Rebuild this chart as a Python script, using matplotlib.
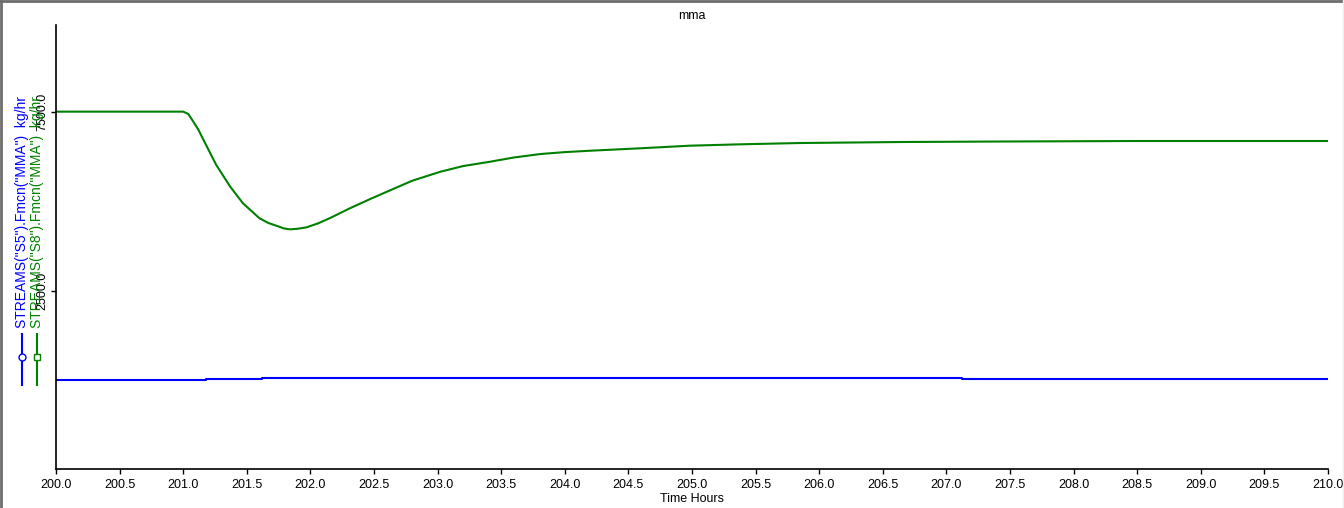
import matplotlib
matplotlib.use("Agg")
import matplotlib.pyplot as plt
from matplotlib.lines import Line2D

plt.rcParams['font.family'] = ['Liberation Sans', 'DejaVu Sans']

# S8 (green)
s8_t = [200.0, 201.0, 201.04, 201.08, 201.12, 201.16, 201.26, 201.37, 201.47,
        201.60, 201.67, 201.74, 201.79, 201.84, 201.90, 201.97, 202.06, 202.15,
        202.31, 202.47, 202.63, 202.80, 203.02, 203.20, 203.41, 203.60, 203.81,
        204.0, 204.20, 204.59, 204.98, 205.38, 205.85, 206.64, 207.42, 208.5, 210.0]
s8_v = [7510, 7510, 7445, 7229, 7000, 6718, 6020, 5413, 4950,
        4531, 4400, 4315, 4250, 4223, 4240, 4279, 4390, 4531,
        4810, 5070, 5318, 5580, 5830, 5990, 6110, 6230, 6327,
        6380, 6419, 6486, 6559, 6598, 6634, 6662, 6676, 6690, 6690]

# S5 (blue), nearly flat with small steps
s5_t = [200.0, 201.18, 201.62, 207.12, 210.0]
s5_v = [20, 50, 80, 45, 45]

xticks = [200 + 0.5 * i for i in range(21)]
yticks = [2500, 7500]

fig = plt.figure(figsize=(13.44, 5.08), dpi=100)
ax = fig.add_axes([56/1344, 1 - 469/508, (1328 - 56)/1344, (469 - 25)/508])

ax.plot(s5_t, s5_v, color='#0000ff', lw=1.5, drawstyle='steps-post')
ax.plot(s8_t, s8_v, color='#008000', lw=1.5)

ax.set_xlim(200, 210)
ax.set_ylim(-2470, 9930)
ax.set_xticks(xticks)
ax.set_xticklabels(['%.1f' % t for t in xticks], fontsize=9)
ax.set_yticks(yticks)
ax.set_yticklabels(['%.1f' % v for v in yticks], fontsize=9, rotation=90, va='center')
ax.tick_params(axis='x', direction='out', length=3.5, width=1, pad=3.5)
ax.tick_params(axis='y', direction='out', length=3.5, width=1, pad=2)

for s in ['top', 'right']:
    ax.spines[s].set_visible(False)
for s in ['left', 'bottom']:
    ax.spines[s].set_linewidth(1.2)

ax.set_title('mma', fontsize=9, pad=4)
ax.set_xlabel('Time Hours', fontsize=9, labelpad=1.5)

# vertical legend on the left
entries = [('STREAMS("S5").Fmcn("MMA")  kg/hr', '#0000ff', 'o', 22),
           ('STREAMS("S8").Fmcn("MMA")  kg/hr', '#008000', 's', 37)]
for label, col, mk, xp in entries:
    x = xp / 1344
    fig.add_artist(Line2D([x, x], [1 - 385/508, 1 - 334/508], color=col, lw=1.5,
                          transform=fig.transFigure))
    fig.add_artist(Line2D([x], [1 - 357/508], color=col, marker=mk, markersize=5,
                          markerfacecolor='white', markeredgecolor=col,
                          transform=fig.transFigure))
    fig.text(x, 1 - 328/508, label, color=col, fontsize=10, rotation=90,
             ha='center', va='bottom')

# window border
fig.add_artist(Line2D([0, 1], [0.998, 0.998], color='#6d6d6d', lw=2, transform=fig.transFigure))
fig.add_artist(Line2D([0.001, 0.001], [0, 1], color='#6d6d6d', lw=2, transform=fig.transFigure))
fig.add_artist(Line2D([0.9993, 0.9993], [0, 1], color='#eeeeee', lw=1, transform=fig.transFigure))

fig.savefig('out.png', dpi=100)
